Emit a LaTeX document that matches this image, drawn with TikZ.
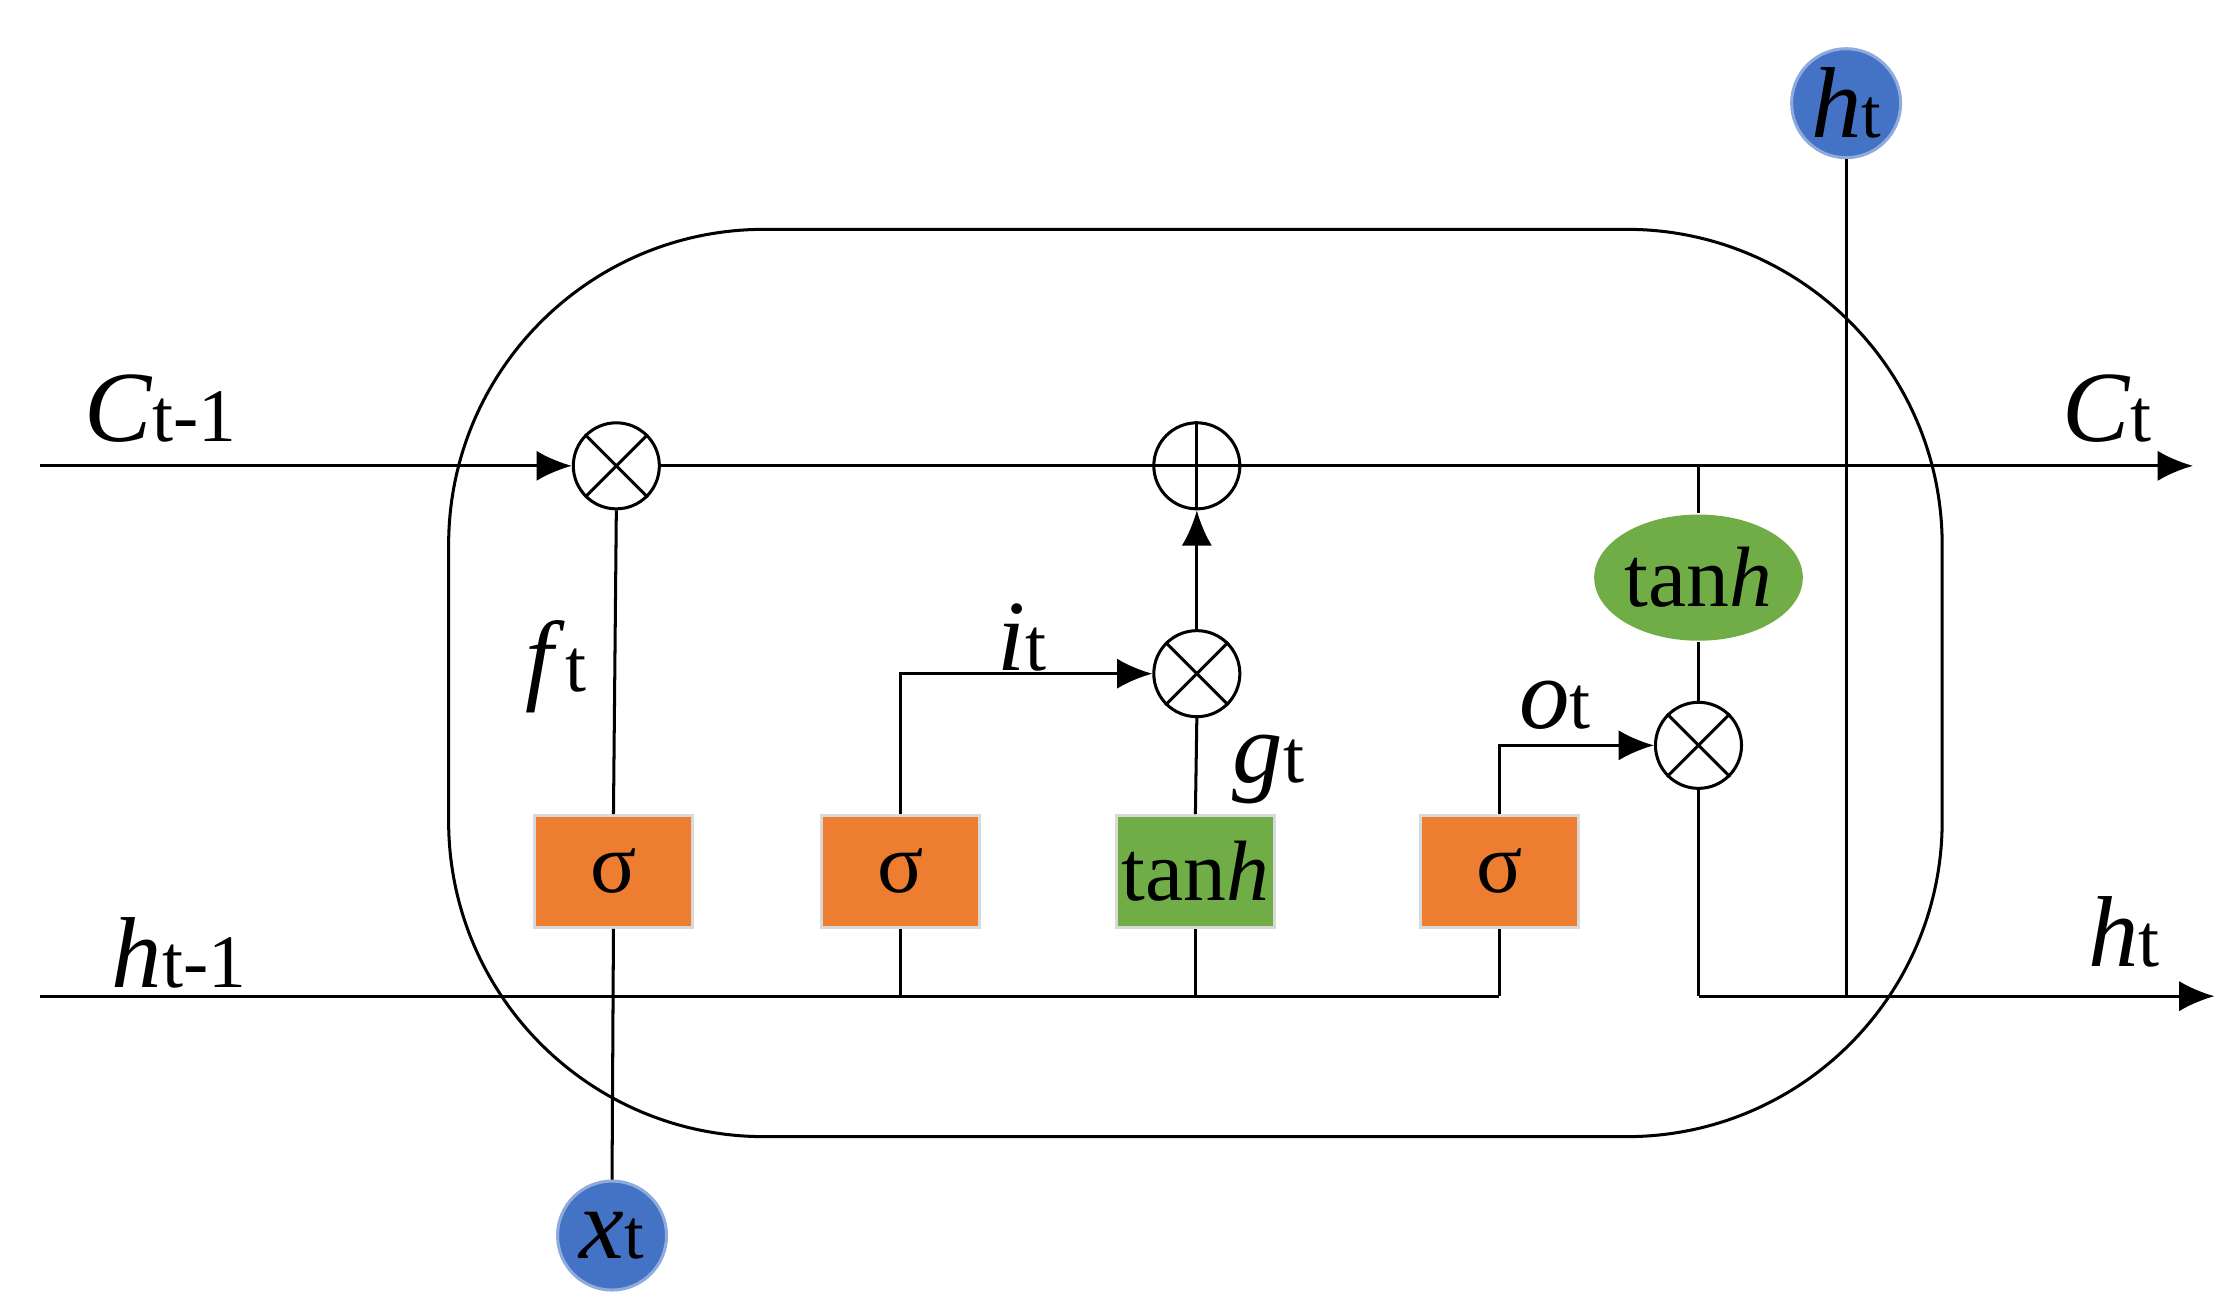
\documentclass[tikz,border=0pt]{standalone}
\usepackage{fontspec}
\setmainfont{Liberation Serif}
\usetikzlibrary{shapes.geometric,arrows.meta}
\definecolor{org}{HTML}{ED7D31}
\definecolor{grn}{HTML}{70AD47}
\definecolor{blu}{HTML}{4472C4}
\begin{document}
\begin{tikzpicture}[x=0.01cm,y=-0.01cm,
  op/.style={circle,draw,minimum size=0.6cm,inner sep=0pt,line width=0.6pt},
  box/.style={minimum width=1.1cm,minimum height=0.78cm,inner sep=0pt,font=\fontsize{17}{17}\selectfont,draw=gray!30},
  io/.style={circle,fill=blu,draw=blu!60,minimum size=0.76cm,inner sep=0pt,font=\fontsize{20}{20}\selectfont},
  lbl/.style={font=\fontsize{20}{20}\selectfont,inner sep=0pt},
  arr/.style={-{Latex[length=7pt,width=6pt]}},
  every path/.style={line width=0.6pt}]
\useasboundingbox (0,0) rectangle (1560,912);
\draw[rounded corners=2.2cm] (313,160) rectangle (1355,793);
% nodes
\node[op] (m1) at (430,325) {};
\draw (m1.north west)--(m1.south east) (m1.north east)--(m1.south west);
\node[op] (p1) at (835,325) {};
\draw (p1.north)--(p1.south) (p1.west)--(p1.east);
\node[op] (m2) at (835,470) {};
\draw (m2.north west)--(m2.south east) (m2.north east)--(m2.south west);
\node[op] (m3) at (1185,520) {};
\draw (m3.north west)--(m3.south east) (m3.north east)--(m3.south west);
\node[box,fill=org] (s1) at (428,608) {σ};
\node[box,fill=org] (s2) at (628,608) {σ};
\node[box,fill=grn] (tg) at (834,608) {tan\textit{h}};
\node[box,fill=org] (s4) at (1046,608) {σ};
\node[ellipse,fill=grn,minimum width=1.35cm,minimum height=0.88cm,inner sep=0pt,font=\fontsize{17}{17}\selectfont] (te) at (1185,403) {tan\textit{h}};
\node[io] (ht) at (1288,72) {\textit{h}\fontsize{14}{14}\selectfont t};
\node[io] (xt) at (427,862) {\textit{x}\fontsize{14}{14}\selectfont t};
\coordinate (cin) at (28,325);
\coordinate (cout) at (1530,325);
\coordinate (hin) at (28,695);
\coordinate (hend) at (1046,695);
\coordinate (hs) at (1185,695);
\coordinate (hout) at (1545,695);
\coordinate (tap) at (1185,325);
% connectors
\draw[arr] (cin)--(m1.west);
\draw (m1.east)--(p1.west);
\draw[arr] (p1.east)--(cout);
\draw (hin)--(hend);
\draw (m1.south)--(s1.north);
\draw (xt.north)--(s1.south);
\draw (s2.south)--(628,695);
\draw (tg.south)--(834,695);
\draw (s4.south)--(hend);
\draw[arr] (s2.north)|-(m2.west);
\draw (tg.north)--(m2.south);
\draw[arr] (m2.north)--(p1.south);
\draw[arr] (s4.north)|-(m3.west);
\draw (tap)--(te.north);
\draw (te.south)--(m3.north);
\draw (m3.south)--(hs);
\draw[arr] (hs)--(hout);
\draw (ht.south)--(1288,695);
% labels
\node[lbl] at (112,285) {\textit{C}\fontsize{15}{15}\selectfont t-1};
\node[lbl] at (1470,285) {\textit{C}\fontsize{15}{15}\selectfont t};
\node[lbl] at (125,665) {\textit{h}\fontsize{15}{15}\selectfont t-1};
\node[lbl] at (1482,650) {\textit{h}\fontsize{15}{15}\selectfont t};
\node[lbl] at (388,465) {\textit{f}\fontsize{15}{15}\selectfont t};
\node[lbl] at (713,445) {\textit{i}\fontsize{15}{15}\selectfont t};
\node[lbl] at (885,537) {\textit{g}\fontsize{15}{15}\selectfont t};
\node[lbl] at (1085,492) {\textit{o}\fontsize{15}{15}\selectfont t};
\end{tikzpicture}
\end{document}
